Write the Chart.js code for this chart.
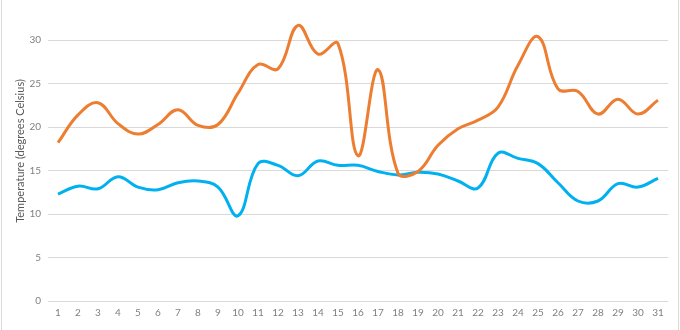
<!DOCTYPE html>
<html>
<head>
<meta charset="utf-8">
<script src="https://cdn.jsdelivr.net/npm/chart.js@4/dist/chart.umd.min.js"></script>
<style>
  html, body { margin: 0; padding: 0; background: #fff; }
  #wrap { width: 680px; height: 330px; position: relative; }
</style>
</head>
<body>
<div id="wrap"><canvas id="chart" width="680" height="330"></canvas></div>
<script>
const days = ["1","2","3","4","5","6","7","8","9","10","11","12","13","14","15","16",
  "17","18","19","20","21","22","23","24","25","26","27","28","29","30","31"];

const highTemps = [18.2, 21.4, 22.8, 20.4, 19.2, 20.3, 22.0, 20.2, 20.3, 23.9, 27.2, 26.7, 31.7, 28.4, 29.6, 16.7,
  26.6, 14.7, 14.9, 17.9, 19.8, 20.8, 22.3, 27.1, 30.4, 24.4, 24.1, 21.5, 23.2, 21.5, 23.1];

const lowTemps = [12.3, 13.2, 12.9, 14.3, 13.1, 12.8, 13.6, 13.8, 13.1, 9.8, 15.8, 15.6, 14.4, 16.1, 15.6, 15.6,
  14.9, 14.5, 14.8, 14.6, 13.8, 13.0, 17.0, 16.4, 15.8, 13.6, 11.5, 11.5, 13.5, 13.1, 14.1];

const yTicks = [0, 5, 10, 15, 20, 25, 30];

const tickColor = '#808080';
const titleColor = '#595959';
const gridColor = '#d9d9d9';

// light frame round the whole picture, like the exported chart
const framePlugin = {
  id: 'frame',
  beforeDraw(chart) {
    const ctx = chart.ctx;
    ctx.save();
    ctx.strokeStyle = '#d9d9d9';
    ctx.lineWidth = 1;
    ctx.beginPath();
    ctx.moveTo(1.5, 0); ctx.lineTo(1.5, 330);
    ctx.moveTo(678.5, 0); ctx.lineTo(678.5, 330);
    ctx.stroke();
    ctx.restore();
  }
};

new Chart('chart', {
  type: 'line',
  data: {
    labels: days,
    datasets: [
      {
        label: 'High',
        data: highTemps,
        borderColor: '#ED7D31',
        backgroundColor: '#ED7D31',
        borderWidth: 3,
        tension: 0.4,
        pointRadius: 0,
        fill: false
      },
      {
        label: 'Low',
        data: lowTemps,
        borderColor: '#00B0F0',
        backgroundColor: '#00B0F0',
        borderWidth: 3,
        tension: 0.4,
        pointRadius: 0,
        fill: false
      }
    ]
  },
  options: {
    responsive: false,
    animation: false,
    layout: { padding: { top: 1, right: 12, bottom: 0, left: 0 } },
    plugins: {
      legend: { display: false },
      tooltip: { enabled: false }
    },
    scales: {
      x: {
        offset: true,
        grid: { display: false, drawTicks: false },
        border: { display: false },
        ticks: {
          color: tickColor,
          font: { family: 'Lato', size: 10 },
          padding: 6,
          maxRotation: 0,
          autoSkip: false
        },
        afterFit(scale) { scale.height = 29; }
      },
      y: {
        min: 0,
        max: 34.5,
        border: { display: false },
        grid: { color: gridColor, lineWidth: 1, drawTicks: false },
        ticks: {
          color: tickColor,
          font: { family: 'Lato', size: 10 },
          padding: 7
        },
        afterBuildTicks(scale) {
          scale.ticks = yTicks.map(v => ({ value: v }));
        },
        afterFit(scale) {
          scale.width = 48;
          scale.paddingTop = 0;
          scale.paddingBottom = 0;
        },
        title: {
          display: true,
          text: 'Temperature (degrees Celsius)',
          color: titleColor,
          font: { family: 'Lato', size: 11 },
          padding: { top: 14, bottom: 0 }
        }
      }
    }
  },
  plugins: [framePlugin]
});
</script>
</body>
</html>
